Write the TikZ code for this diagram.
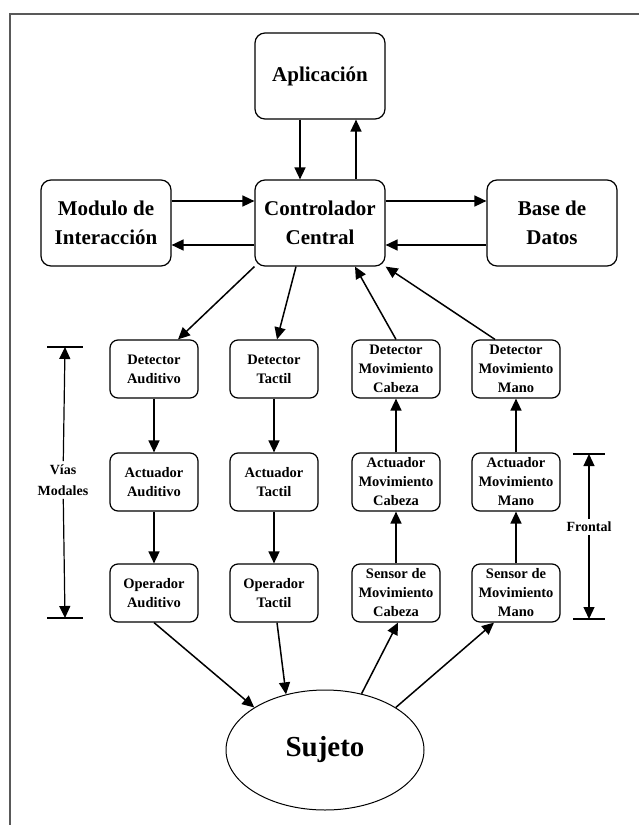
\documentclass[tikz,border=0pt]{standalone}
\usepackage{fontspec}
\setmainfont{Liberation Serif}
\usetikzlibrary{arrows.meta,shapes.geometric}

\begin{document}
\begin{tikzpicture}[x=1pt,y=-1pt,>={Triangle[length=12pt,width=11pt]}]
	\useasboundingbox (0,0) rectangle (639,825);
	\draw [line width=2pt,black!65] (10,830) -- (10,14) -- (645,14);

	\begin{scope}[every node/.style={draw,line width=1.2pt,rounded corners=10pt,minimum width=130pt,minimum height=86pt,align=center,font=\bfseries\fontsize{21}{29}\selectfont}]
		\node (apl) at (320,76) {Aplicación};
		\node (mod) at (106,223) {Modulo de\\Interacción};
		\node (ctrl) at (320,223) {Controlador\\Central};
		\node (bd) at (552,223) {Base de\\Datos};
	\end{scope}
	\begin{scope}[every node/.style={draw,line width=1.2pt,rounded corners=8pt,minimum width=88pt,minimum height=58pt,inner sep=1pt,align=center,font=\bfseries\fontsize{14.5}{19}\selectfont}]
		\node (detA) at (154,369) {Detector\\Auditivo};
		\node (detT) at (274,369) {Detector\\Tactil};
		\node (detC) at (396,369) {Detector\\Movimiento\\Cabeza};
		\node (detM) at (516,369) {Detector\\Movimiento\\Mano};
		\node (actA) at (154,482) {Actuador\\Auditivo};
		\node (actT) at (274,482) {Actuador\\Tactil};
		\node (actC) at (396,482) {Actuador\\Movimiento\\Cabeza};
		\node (actM) at (516,482) {Actuador\\Movimiento\\Mano};
		\node (opA) at (154,593) {Operador\\Auditivo};
		\node (opT) at (274,593) {Operador\\Tactil};
		\node (senC) at (396,593) {Sensor de\\Movimiento\\Cabeza};
		\node (senM) at (516,593) {Sensor de\\Movimiento\\Mano};
	\end{scope}
	\node [draw,ellipse,line width=1pt,minimum width=198pt,minimum height=120pt,font=\bfseries\fontsize{29}{34}\selectfont] (suj) at (325,750) {Sujeto};

	\begin{scope}[every node/.style={fill=white,align=center,font=\bfseries\fontsize{14}{21}\selectfont}]
		\node (vias) at (63,480) {Vías\\Modales};
		\node (front) at (589,527) {Frontal};
	\end{scope}
	\coordinate (viasT) at (65,347);
	\coordinate (viasB) at (65,618);
	\coordinate (frontT) at (589,454);
	\coordinate (frontB) at (589,619);

	\begin{scope}[every edge/.style={draw,line width=1.5pt}]
		\path [->] ([xshift=-20pt]apl.south) edge ([xshift=-20pt]ctrl.north);
		\path [->] ([xshift=36pt]ctrl.north) edge ([xshift=36pt]apl.south);
		\path [->] ([yshift=22pt]mod.east) edge ([yshift=22pt]ctrl.west);
		\path [->] ([yshift=-22pt]ctrl.west) edge ([yshift=-22pt]mod.east);
		\path [->] ([yshift=22pt]ctrl.east) edge ([yshift=22pt]bd.west);
		\path [->] ([yshift=-22pt]bd.west) edge ([yshift=-22pt]ctrl.east);

		\path [->] (ctrl.south west) edge ([xshift=24pt]detA.north);
		\path [->] ([xshift=-24pt]ctrl.south) edge ([xshift=3pt]detT.north);
		\path [->] (detC.north) edge ([xshift=35pt]ctrl.south);
		\path [->] ([xshift=-21pt]detM.north) edge (ctrl.south east);

		\path [->] (detA) edge (actA);
		\path [->] (actA) edge (opA);
		\path [->] (detT) edge (actT);
		\path [->] (actT) edge (opT);
		\path [->] (senC) edge (actC);
		\path [->] (actC) edge (detC);
		\path [->] (senM) edge (actM);
		\path [->] (actM) edge (detM);

		\path [->] (opA.south) edge (suj.149);
		\path [->] ([xshift=3pt]opT.south) edge (suj.125);
		\path [->] (suj.57) edge ([xshift=2pt]senC.south);
		\path [->] (suj.31) edge ([xshift=-22pt]senM.south);
	\end{scope}

	\begin{scope}[every edge/.style={draw,line width=1.2pt}]
		\path [->] (vias) edge (viasT);
		\path [->] (vias) edge (viasB);
		\path [->] (front) edge (frontT);
		\path [->] (front) edge (frontB);
	\end{scope}
	\draw [line width=1.2pt] ([xshift=-18pt]viasT) -- ([xshift=18pt]viasT);
	\draw [line width=1.2pt] ([xshift=-18pt]viasB) -- ([xshift=18pt]viasB);
	\draw [line width=1.2pt] ([xshift=-16pt]frontT) -- ([xshift=16pt]frontT);
	\draw [line width=1.2pt] ([xshift=-16pt]frontB) -- ([xshift=16pt]frontB);
\end{tikzpicture}
\end{document}
